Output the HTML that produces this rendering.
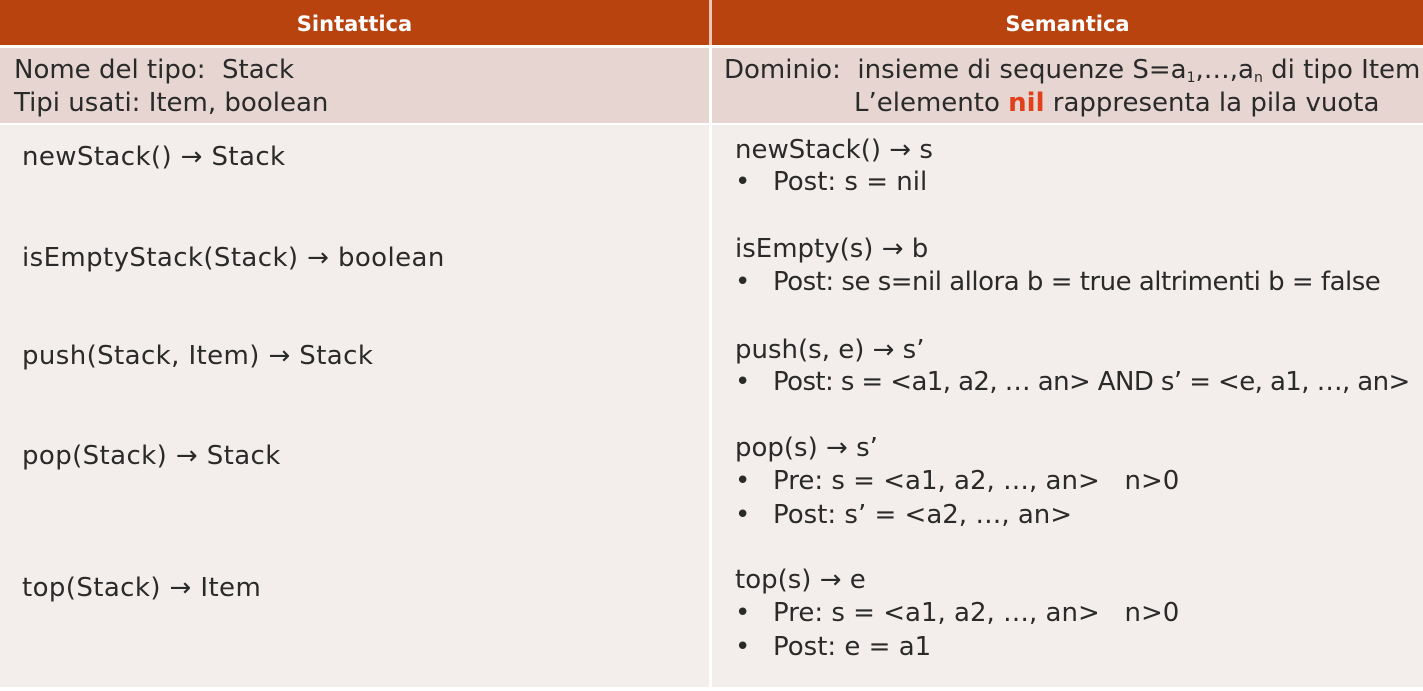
<!DOCTYPE html>
<html><head><meta charset="utf-8"><style>
body{margin:0;width:1423px;height:691px;background:#fff;position:relative;overflow:hidden;font-family:"DejaVu Sans","Liberation Sans",sans-serif;color:#2a2a2a}
.b{position:absolute}
.t{position:absolute;white-space:nowrap;font-size:26px;line-height:30px;height:30px}
.l{letter-spacing:0.4px}
.h{position:absolute;color:#fff;font-weight:bold;font-size:21px;line-height:30px;text-align:center}
.bul{display:inline-block;width:38px}
sub{font-size:14px;vertical-align:-4px;line-height:0}
</style></head><body>
<div class="b" style="left:0;top:0;width:1423px;height:45px;background:#b9430f"></div>
<div class="b" style="left:709px;top:0;width:3px;height:45px;background:#fff;opacity:.7"></div>
<div class="b" style="left:0;top:48px;width:1423px;height:75px;background:#e6d5d0"></div>
<div class="b" style="left:0;top:125px;width:1423px;height:562px;background:#f3eeec"></div>
<div class="b" style="left:709px;top:45px;width:3px;height:642px;background:#fff"></div>
<div class="h" style="left:0;top:9px;width:709px">Sintattica</div>
<div class="h" style="left:712px;top:9px;width:711px">Semantica</div>

<div class="t" style="left:14px;top:55px">Nome del tipo:&nbsp; Stack</div>
<div class="t" style="left:14px;top:88px">Tipi usati: Item, boolean</div>
<div class="t" style="left:724px;top:55px">Dominio:&nbsp; insieme di sequenze S=a<sub>1</sub>,…,a<sub>n</sub> di tipo Item</div>
<div class="t" style="left:854px;top:88px">L’elemento <b style="color:#e2401b">nil</b> rappresenta la pila vuota</div>

<div class="t l" style="left:22px;top:142px">newStack() → Stack</div>
<div class="t l" style="left:22px;top:243px">isEmptyStack(Stack) → boolean</div>
<div class="t l" style="left:22px;top:341px">push(Stack, Item) → Stack</div>
<div class="t l" style="left:22px;top:441px">pop(Stack) → Stack</div>
<div class="t l" style="left:22px;top:573px">top(Stack) → Item</div>

<div class="t" style="left:735px;top:135px">newStack() → s</div>
<div class="t" style="left:735px;top:167px"><span class="bul">•</span>Post: s = nil</div>
<div class="t" style="left:735px;top:234px">isEmpty(s) → b</div>
<div class="t" style="left:735px;top:267px;letter-spacing:-0.5px"><span class="bul">•</span>Post: se s=nil allora b = true altrimenti b = false</div>
<div class="t" style="left:735px;top:335px">push(s, e) → s’</div>
<div class="t" style="left:735px;top:367px;letter-spacing:-0.6px"><span class="bul">•</span>Post: s = &lt;a1, a2, … an&gt; AND s’ = &lt;e, a1, …, an&gt;</div>
<div class="t" style="left:735px;top:433px">pop(s) → s’</div>
<div class="t" style="left:735px;top:466px"><span class="bul">•</span>Pre: s = &lt;a1, a2, …, an&gt;&nbsp;&nbsp; n&gt;0</div>
<div class="t" style="left:735px;top:500px"><span class="bul">•</span>Post: s’ = &lt;a2, …, an&gt;</div>
<div class="t" style="left:735px;top:565px">top(s) → e</div>
<div class="t" style="left:735px;top:598px"><span class="bul">•</span>Pre: s = &lt;a1, a2, …, an&gt;&nbsp;&nbsp; n&gt;0</div>
<div class="t" style="left:735px;top:632px"><span class="bul">•</span>Post: e = a1</div>
</body></html>
